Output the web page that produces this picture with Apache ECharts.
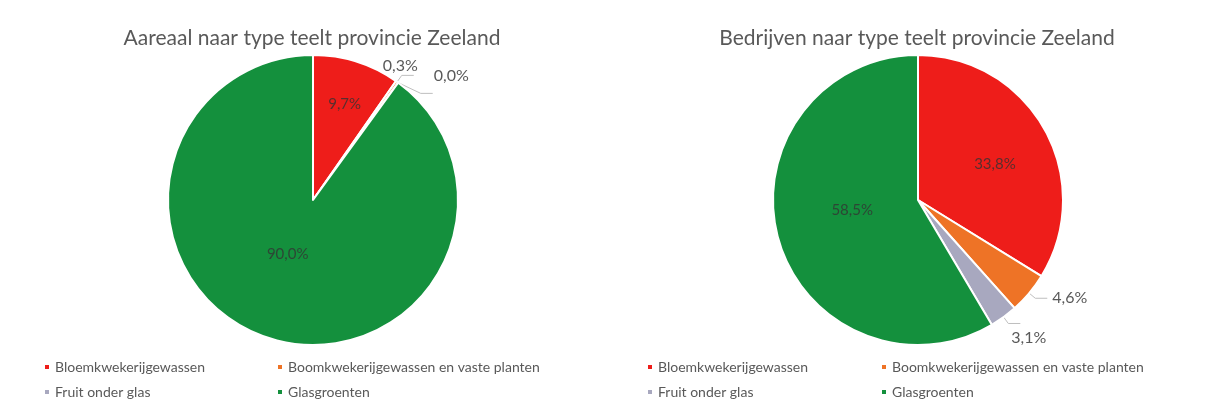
<!DOCTYPE html>
<html>
<head>
<meta charset="utf-8">
<script src="https://cdn.jsdelivr.net/npm/echarts@6/dist/echarts.min.js"></script>
<style>
  html, body { margin: 0; padding: 0; background: #fff; }
  #chart { width: 1205px; height: 406px; }
</style>
</head>
<body>
<div id="chart"></div>
<script>
// categories (teelttypes)
const categories = ['Bloemkwekerijgewassen', 'Boomkwekerijgewassen en vaste planten', 'Fruit onder glas', 'Glasgroenten']
const colors = ['#ee1d1a', '#ee7326', '#a8a8bf', '#14903d']
// aandeel in %
const areaalValues = [9.7, 0.3, 0.0, 90.0]
const bedrijvenValues = [33.8, 4.6, 3.1, 58.5]
// welke labels binnen de taart staan
const areaalInside = [true, false, false, true]
const bedrijvenInside = [true, false, false, true]

const FONT = 'Lato, "Open Sans", sans-serif'
const fmt = v => v.toFixed(1).replace('.', ',') + '%'

function pieData (values, inside) {
  return values.map((v, i) => ({
    name: categories[i],
    value: v,
    itemStyle: { color: colors[i] },
    label: inside[i]
      ? { position: 'inside', color: '#333', fontSize: 15, opacity: 0.8 }
      : { position: 'outside', color: '#595959', fontSize: 16 },
    labelLine: { show: !inside[i], length: 8, length2: 12, lineStyle: { color: '#bfbfbf', width: 1 } }
  }))
}

// label nudges (Excel places labels a little differently)
const nudgeAreaal = [[9, -24], [-36, -10], [-4, -18], [-2, -18]]
const nudgeBedrijven = [[11, 1], [0, 0], [-14, 14], [7, -10]]

function pieSeries (values, inside, cx, nudge) {
  return {
    type: 'pie',
    center: [cx, 200],
    radius: 145,
    startAngle: 90,
    clockwise: true,
    animation: false,
    itemStyle: { borderColor: '#fff', borderWidth: 2 },
    label: { fontFamily: FONT, formatter: p => fmt(p.value) },
    labelLayout: p => ({ dx: nudge[p.dataIndex][0], dy: nudge[p.dataIndex][1] }),
    data: pieData(values, inside)
  }
}

function legend (names, left) {
  return {
    orient: 'vertical',
    left: left,
    top: 355,
    itemGap: 11,
    itemWidth: 6,
    itemHeight: 6,
    icon: 'rect',
    selectedMode: false,
    textStyle: { color: '#595959', fontSize: 14, fontFamily: FONT },
    data: names
  }
}

const myChart = echarts.init(document.getElementById('chart'), null, { renderer: 'canvas' })
myChart.setOption({
  backgroundColor: '#fff',
  title: [
    { text: 'Aareaal naar type teelt provincie Zeeland', left: 307, top: 23, textAlign: 'center',
      textStyle: { color: '#595959', fontSize: 21, fontWeight: 'normal', fontFamily: FONT } },
    { text: 'Bedrijven naar type teelt provincie Zeeland', left: 912, top: 23, textAlign: 'center',
      textStyle: { color: '#595959', fontSize: 21, fontWeight: 'normal', fontFamily: FONT } }
  ],
  legend: [
    legend([categories[0], categories[2]], 38),
    legend([categories[1], categories[3]], 271),
    legend([categories[0], categories[2]], 641),
    legend([categories[1], categories[3]], 875)
  ],
  series: [
    pieSeries(areaalValues, areaalInside, 313, nudgeAreaal),
    pieSeries(bedrijvenValues, bedrijvenInside, 918, nudgeBedrijven)
  ]
})
</script>
</body>
</html>
